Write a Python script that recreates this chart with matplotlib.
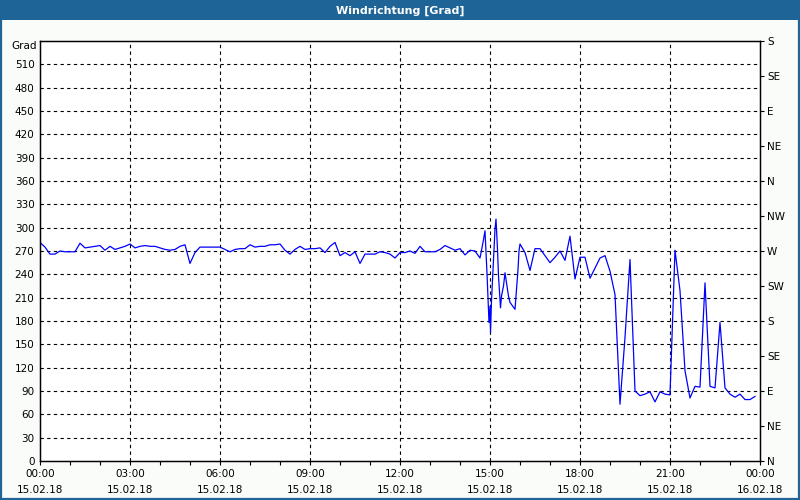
import numpy as np
import matplotlib
matplotlib.use("Agg")
import matplotlib.pyplot as plt
from matplotlib.patches import Rectangle

# wind direction in degrees, 10-minute readings 00:00 - 14:30
dir_morning = [281, 275, 266, 266, 270, 269, 269, 269, 280, 274,
               275, 276, 277, 271, 276, 272, 274, 276, 279, 274,
               276, 277, 276, 276, 274, 272, 271, 272, 276, 278,
               254, 268, 275, 275, 275, 275, 275, 272, 269, 272,
               273, 273, 278, 275, 276, 276, 278, 278, 279, 271,
               266, 272, 276, 272, 273, 273, 274, 268, 276, 281,
               264, 268, 264, 269, 254, 266, 266, 266, 269, 268,
               266, 261, 268, 268, 270, 267, 276, 269, 269, 269,
               272, 277, 274, 271, 273, 265, 271, 270]

# irregular readings around 15:00 (minutes after midnight)
burst_min = [880, 886, 890, 894, 898, 900, 901, 903, 906, 910,
             912, 915, 917, 921, 923, 927, 930, 937, 940, 950,
             956, 958, 960]
burst_dir = [261, 281, 296, 241, 178, 199, 165, 206, 246, 298,
             311, 272, 238, 197, 212, 225, 242, 212, 204, 195,
             246, 270, 279]

# 10-minute readings 16:10 - 23:50
dir_evening = [268, 245, 273, 273, 264, 255, 262, 270, 258, 289,
               234, 262, 262, 235, 248, 261, 264, 244, 214, 73,
               159, 259, 90, 84, 86, 89, 76, 89, 86, 85,
               271, 219, 116, 81, 96, 95, 229, 96, 94, 178,
               94, 86, 82, 86, 79, 79, 83]

left_ticks = list(range(0, 540, 30))
compass_ticks = list(range(0, 541, 45))
compass_labels = ["N", "NE", "E", "SE", "S", "SW", "W", "NW",
                  "N", "NE", "E", "SE", "S"]
hour_ticks = list(range(0, 25, 3))
hour_labels = ["00:00\n15.02.18", "03:00\n15.02.18", "06:00\n15.02.18",
               "09:00\n15.02.18", "12:00\n15.02.18", "15:00\n15.02.18",
               "18:00\n15.02.18", "21:00\n15.02.18", "00:00\n16.02.18"]

minutes = (list(np.arange(len(dir_morning)) * 10) + burst_min
           + list(970 + np.arange(len(dir_evening)) * 10))
values = dir_morning + burst_dir + dir_evening
hours = np.array(minutes) / 60.0

bar_blue = "#1E6496"
plt.rcParams["font.family"] = ["DejaVu Sans"]
plt.rcParams["font.size"] = 7.5

fig = plt.figure(figsize=(8, 5), dpi=100, facecolor="#F9FCF9")
ax = fig.add_axes([0.05, 0.078, 0.90, 0.840])

# title bar and window border
fig.patches.append(Rectangle((0, 0.96), 1, 0.04, transform=fig.transFigure,
                             facecolor=bar_blue, edgecolor="none", zorder=0))
fig.patches.append(Rectangle((0.0012, 0.002), 0.9976, 0.996, transform=fig.transFigure,
                             facecolor="none", edgecolor=bar_blue, lw=1.6, zorder=5))
fig.text(0.5, 0.979, "Windrichtung [Grad]", color="white", ha="center",
         va="center", fontsize=8, fontweight="bold")

ax.plot(hours, values, color="#0000FF", lw=0.9)

ax.set_xlim(0, 24)
ax.set_ylim(0, 540)
ax.set_facecolor("white")

ax.set_xticks(hour_ticks)
ax.set_xticklabels(hour_labels, linespacing=1.65)
ax.set_xticks(range(0, 25), minor=True)
ax.tick_params(axis="x", which="both", direction="out", length=3,
               width=0.8, pad=3)
ax.set_yticks(left_ticks)
ax.tick_params(axis="y", length=0, pad=4)

for v in left_ticks[1:]:
    ax.axhline(v, color="black", lw=0.8, ls=(0, (3, 3)), zorder=1)
for h in hour_ticks[1:-1]:
    ax.axvline(h, color="black", lw=0.8, ls=(0, (3, 3)), zorder=1)

for s in ax.spines.values():
    s.set_linewidth(1.0)

ax2 = ax.twinx()
ax2.set_ylim(0, 540)
ax2.set_yticks(compass_ticks)
ax2.set_yticklabels(compass_labels)
ax2.tick_params(axis="y", direction="out", length=3, width=0.8, pad=2)

fig.text(0.046, 0.908, "Grad", ha="right", va="center", fontsize=7.5)

fig.savefig("out.png", dpi=100, facecolor=fig.get_facecolor())
